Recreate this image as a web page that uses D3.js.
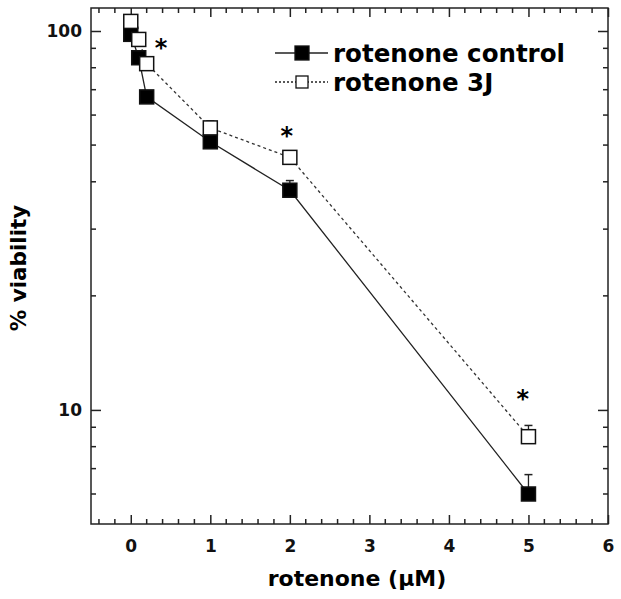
<!DOCTYPE html>
<meta charset="utf-8">
<style>
body { margin: 0; background: #fff; }
svg { display: block; }
.tick text { font: bold 17px "DejaVu Sans", sans-serif; fill: #111; }
.axis path, .axis line { stroke: #222; fill: none; }
.label { font-family: "DejaVu Sans", sans-serif; font-weight: bold; fill: #000; }
</style>
<body>
<svg width="621" height="599"></svg>
<script src="https://cdnjs.cloudflare.com/ajax/libs/d3/7.8.5/d3.min.js"></script>
<script>

// rotenone concentration (uM)
var dose = [0, 0.1, 0.2, 1, 2, 5];
// % viability
var control = [98, 85, 67, 51, 38, 6.0];
var control_err = [0, 0, 0, 0, 2.3, 0.75];
var treated = [106, 95, 82, 55.5, 46.4, 8.5];
var treated_err = [0, 0, 0, 2.4, 0, 0.6];
// significance markers
var starX = [0.38, 1.96, 4.93];
var starY = [94, 54.8, 11.1];

var xTicks = [0, 1, 2, 3, 4, 5, 6];
var yTicks = [10, 100];

var svg = d3.select("svg"),
    margin = {top: 8, right: 13, bottom: 75, left: 91},
    width = +svg.attr("width") - margin.left - margin.right,
    height = +svg.attr("height") - margin.top - margin.bottom;

var x = d3.scaleLinear().domain([-0.5, 6]).range([0, width]),
    y = d3.scaleLog().domain([5, 115]).range([height, 0]);

var g = svg.append("g")
    .attr("transform", "translate(" + margin.left + "," + margin.top + ")");

// frame
g.append("rect")
    .attr("width", width).attr("height", height)
    .attr("fill", "none").attr("stroke", "#222").attr("stroke-width", 1.5);

var xMinor = d3.range(-4, 60, 2).map(function(d) { return d / 10; })
    .filter(function(d) { return Math.abs(d - Math.round(d)) > 1e-6; });
var yMinor = [6, 7, 8, 9, 20, 30, 40, 50, 60, 70, 80, 90];

// major ticks with labels (inward)
g.append("g").attr("class", "axis")
    .attr("transform", "translate(0," + height + ")")
    .call(d3.axisBottom(x).tickValues(xTicks).tickSize(-9).tickPadding(16).tickFormat(d3.format("d")))
    .call(function(s) { s.select(".domain").remove(); });
g.append("g").attr("class", "axis")
    .call(d3.axisLeft(y).tickValues(yTicks).tickSize(-10).tickPadding(9).tickFormat(d3.format("d")))
    .call(function(s) { s.select(".domain").remove(); });
g.append("g").attr("class", "axis")
    .call(d3.axisTop(x).tickValues(xTicks).tickSize(-9).tickFormat(""))
    .call(function(s) { s.select(".domain").remove(); });
g.append("g").attr("class", "axis")
    .attr("transform", "translate(" + width + ",0)")
    .call(d3.axisRight(y).tickValues(yTicks).tickSize(-10).tickFormat(""))
    .call(function(s) { s.select(".domain").remove(); });

// minor ticks
[["b", height, -5], ["t", 0, 5]].forEach(function(a) {
  g.append("g").attr("class", "axis").selectAll("line").data(xMinor).enter().append("line")
      .attr("x1", x).attr("x2", x).attr("y1", a[1]).attr("y2", a[1] + a[2]);
});
[["l", 0, 5], ["r", width, -5]].forEach(function(a) {
  g.append("g").attr("class", "axis").selectAll("line").data(yMinor).enter().append("line")
      .attr("y1", y).attr("y2", y).attr("x1", a[1]).attr("x2", a[1] + a[2]);
});

g.selectAll(".axis line").attr("stroke-width", 1.5);

function series(vals, errs, dashed, filled, size, layer) {
  var pts = dose.map(function(d, i) { return {x: d, y: vals[i], e: errs[i]}; });
  if (layer !== "marks") {
    g.append("path").datum(pts)
        .attr("fill", "none").attr("stroke", dashed ? "#333" : "#222")
        .attr("stroke-width", 1.3)
        .attr("stroke-dasharray", dashed ? "3,3" : null)
        .attr("d", d3.line().x(function(d) { return x(d.x); }).y(function(d) { return y(d.y); }));
  }
  if (layer === "line") return;
  var eb = g.append("g").selectAll("g").data(pts.filter(function(d) { return d.e > 0; })).enter().append("g");
  eb.append("line")
      .attr("x1", function(d) { return x(d.x); }).attr("x2", function(d) { return x(d.x); })
      .attr("y1", function(d) { return y(d.y); }).attr("y2", function(d) { return y(d.y + d.e); })
      .attr("stroke", "#222").attr("stroke-width", 1.3);
  eb.append("line")
      .attr("x1", function(d) { return x(d.x) - 4; }).attr("x2", function(d) { return x(d.x) + 4; })
      .attr("y1", function(d) { return y(d.y + d.e); }).attr("y2", function(d) { return y(d.y + d.e); })
      .attr("stroke", "#222").attr("stroke-width", 1.5);
  g.append("g").selectAll("rect").data(pts).enter().append("rect")
      .attr("x", function(d) { return x(d.x) - size / 2; })
      .attr("y", function(d) { return y(d.y) - size / 2; })
      .attr("width", size).attr("height", size)
      .attr("fill", filled ? "#000" : "#fff")
      .attr("stroke", "#111").attr("stroke-width", 1.5);
}

series(treated, treated_err, true, false, 14, "line");
series(control, control_err, false, true, 14);
// open squares sit above filled ones
series(treated, treated_err, true, false, 14, "marks");

g.selectAll(".star").data(starX).enter().append("text")
    .attr("class", "label star")
    .attr("x", function(d) { return x(d); })
    .attr("y", function(d, i) { return y(starY[i]); })
    .attr("dy", "0.6em")
    .attr("text-anchor", "middle")
    .style("font-size", "24px")
    .text("*");

// legend
var legend = [
  {name: "rotenone control", dashed: false, filled: true, size: 14},
  {name: "rotenone 3J", dashed: true, filled: false, size: 12}
];
var lg = svg.append("g").attr("transform", "translate(275,53)");
var row = lg.selectAll("g").data(legend).enter().append("g")
    .attr("transform", function(d, i) { return "translate(0," + i * 29 + ")"; });
row.append("line").attr("x1", 0).attr("x2", 53).attr("y1", 0).attr("y2", 0)
    .attr("stroke", "#222").attr("stroke-width", 1.3)
    .attr("stroke-dasharray", function(d) { return d.dashed ? "2,2" : null; });
row.append("rect")
    .attr("x", function(d) { return 27 - d.size / 2; }).attr("y", function(d) { return -d.size / 2; })
    .attr("width", function(d) { return d.size; }).attr("height", function(d) { return d.size; })
    .attr("fill", function(d) { return d.filled ? "#000" : "#fff"; })
    .attr("stroke", "#111").attr("stroke-width", 1.3);
row.append("text").attr("class", "label")
    .attr("x", 58).attr("y", 9)
    .style("font-size", "24.5px")
    .text(function(d) { return d.name; });

// axis titles
svg.append("text").attr("class", "label")
    .attr("x", 357).attr("y", 586)
    .attr("text-anchor", "middle")
    .style("font-size", "22px")
    .text("rotenone (\u03bcM)");

svg.append("text").attr("class", "label")
    .attr("transform", "translate(26,268) rotate(-90)")
    .attr("text-anchor", "middle")
    .style("font-size", "21.5px")
    .text("% viability");

</script>
</body>
